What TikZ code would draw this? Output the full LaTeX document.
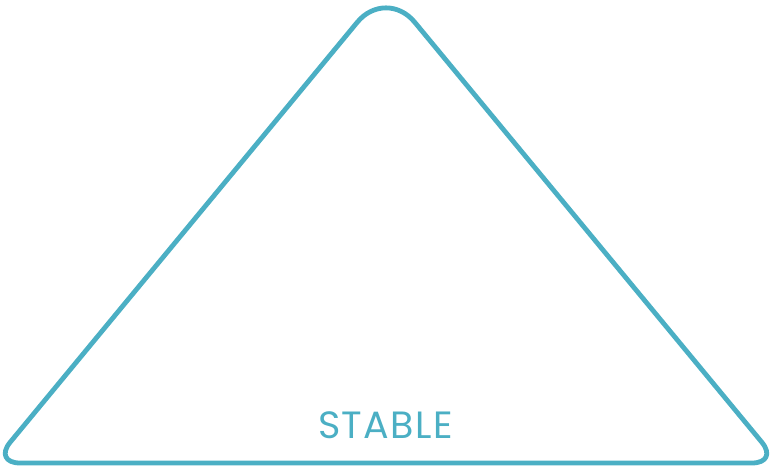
\documentclass[tikz,border=0pt]{standalone}
\usepackage{fontspec}
\setmainfont{Poppins}
\definecolor{tealline}{RGB}{75,175,196}
\begin{document}
\begin{tikzpicture}[x=1pt,y=-1pt,
  edge/.style={draw=tealline,line width=4.8pt,line join=round},
  lbl/.style={text=tealline,font=\fontsize{38}{40}\selectfont\addfontfeature{LetterSpace=3.5},inner sep=0pt,anchor=base west}]
\useasboundingbox (0,0) rectangle (770,468);
\coordinate (bl1) at (20,463);
\coordinate (br1) at (752,463);
\coordinate (br2) at (761.8,442.2);
\coordinate (ar) at (414.7,22.2);
\coordinate (al) at (357.3,22.2);
\coordinate (bl2) at (10.2,442.2);
\path[edge] (bl1) -- (br1)
  .. controls (766.85,463) and (771.26,453.6) .. (br2)
  -- (ar)
  .. controls (398.9,3.1) and (373.1,3.1) .. (al)
  -- (bl2)
  .. controls (0.74,453.6) and (5.15,463) .. (bl1) -- cycle;
\node[lbl] (stable) at (318,438) {STABLE};
\end{tikzpicture}
\end{document}
